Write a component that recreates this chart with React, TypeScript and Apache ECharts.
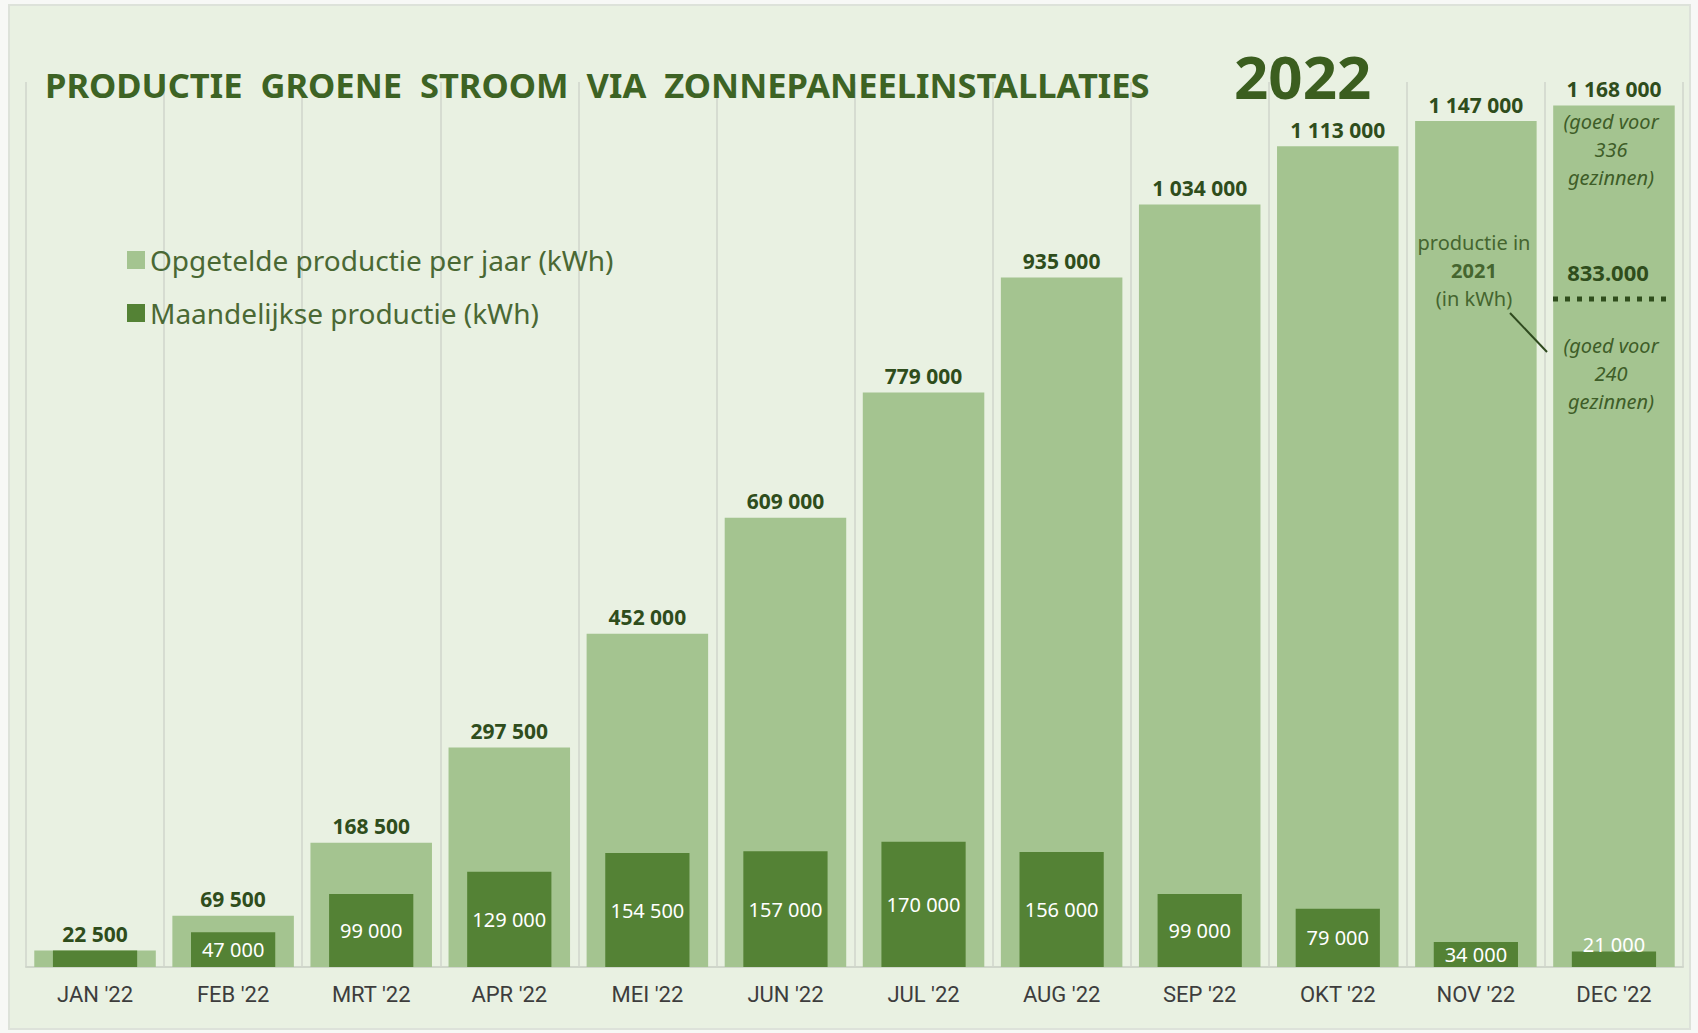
import React, { useEffect, useRef } from "react";
import * as echarts from "echarts";

const months = ["JAN '22", "FEB '22", "MRT '22", "APR '22", "MEI '22", "JUN '22", "JUL '22", "AUG '22", "SEP '22", "OKT '22", "NOV '22", "DEC '22"];
const cumulative = [22500, 69500, 168500, 297500, 452000, 609000, 779000, 935000, 1034000, 1113000, 1147000, 1168000];
const monthly = [22500, 47000, 99000, 129000, 154500, 157000, 170000, 156000, 99000, 79000, 34000, 21000];
const seriesNames = ["Opgetelde productie per jaar (kWh)", "Maandelijkse productie (kWh)"];
const titleText = "PRODUCTIE  GROENE  STROOM  VIA  ZONNEPANEELINSTALLATIES";
const yearText = "2022";
const decNote = ["(goed voor", "336", "gezinnen)"];
const prevNote = ["(goed voor", "240", "gezinnen)"];
const prevLabel = ["productie in", "2021", "(in kWh)"];
const prevValue = "833.000";

const fmt = (v: number) => String(v).replace(/\B(?=(\d{3})+(?!\d))/g, " ");

const FONT = "'Noto Sans', 'Open Sans', sans-serif";
const DARK = "#548235";
const LIGHT = "#a4c490";
const TXT = "#2f4d1c";

export default function App() {
  const ref = useRef<HTMLDivElement>(null);
  useEffect(() => {
    if (!ref.current) return;
    const chart = echarts.init(ref.current, undefined, { renderer: "svg" });
    const darkData = monthly.map((v, i) => {
      if (i === 0) return { value: v, label: { show: false } };
      if (i === monthly.length - 1) return { value: v, label: { position: "top", distance: -3 } };
      return { value: v };
    });
    const italic = (lines: string[], y0: number) =>
      lines.map((t, i) => ({
        type: "text",
        z: 100,
        style: {
          x: 1611, y: y0 + i * 28, text: t, align: "center", verticalAlign: "middle",
          fontFamily: FONT, fontSize: 20, fontStyle: "italic", fill: "#3e5d28",
        },
      }));
    chart.setOption({
      animation: false,
      backgroundColor: "#f7f8f6",
      title: {
        text: titleText,
        left: 40,
        top: 60,
        textStyle: { fontFamily: FONT, fontSize: 34.5, fontWeight: "bold", color: "#3d6324", lineHeight: 38 },
      },
      legend: {
        orient: "vertical",
        left: 122,
        top: 241,
        itemWidth: 18,
        itemHeight: 18,
        itemGap: 25,
        icon: "rect",
        data: seriesNames,
        textStyle: { fontFamily: FONT, fontSize: 28, color: "#4a6834" },
      },
      grid: { left: 26, right: 15, top: 82, bottom: 66 },
      xAxis: [
        {
          type: "category",
          data: months,
          axisLine: { show: true, lineStyle: { color: "#cfd6ca", width: 2 } },
          axisTick: { show: false },
          axisLabel: { fontFamily: "Roboto, sans-serif", fontSize: 22, color: "#3d3d3d", margin: 16 },
          splitLine: { show: true, lineStyle: { color: "#d6dcd1", width: 2 } },
        },
        { type: "category", data: months, show: false },
      ],
      yAxis: { type: "value", min: 0, max: 1200000, show: false, splitLine: { show: false } },
      series: [
        {
          name: seriesNames[0],
          type: "bar",
          xAxisIndex: 0,
          data: cumulative,
          barWidth: "88%",
          itemStyle: { color: LIGHT },
          label: {
            show: true, position: "top", distance: 6, formatter: (p: any) => fmt(p.value),
            fontFamily: FONT, fontSize: 21, fontWeight: "bold", color: TXT,
          },
        },
        {
          name: seriesNames[1],
          type: "bar",
          xAxisIndex: 1,
          data: darkData,
          barWidth: "61%",
          itemStyle: { color: DARK },
          label: {
            show: true, position: "inside", formatter: (p: any) => fmt(p.value),
            fontFamily: FONT, fontSize: 20, color: "#ffffff",
          },
        },
      ],
      graphic: [
        {
          type: "rect", z: -100, silent: true,
          shape: { x: 9, y: 5, width: 1681, height: 1024 },
          style: { fill: "#e9f1e2", stroke: "#dde2da", lineWidth: 2 },
        },
        {
          type: "text", z: 100,
          style: { x: 1234, y: 76, text: yearText, verticalAlign: "middle", fontFamily: FONT, fontSize: 60, fontWeight: "bold", fill: "#3b5e1f" },
        },
        ...italic(decNote, 121),
        ...italic(prevNote, 345),
        {
          type: "text", z: 100,
          style: { x: 1608, y: 272, text: prevValue, align: "center", verticalAlign: "middle", fontFamily: FONT, fontSize: 22, fontWeight: "bold", fill: TXT },
        },
        {
          type: "line", z: 100,
          shape: { x1: 1553, y1: 299, x2: 1670, y2: 299 },
          style: { stroke: "#2f4d1c", lineWidth: 5, lineDash: [5, 7] },
        },
        ...prevLabel.map((t, i) => ({
          type: "text", z: 100,
          style: {
            x: 1474, y: 242 + i * 28, text: t, align: "center", verticalAlign: "middle",
            fontFamily: FONT, fontSize: 20, fontWeight: i === 1 ? "bold" : "normal", fill: "#45652f",
          },
        })),
        {
          type: "line", z: 100,
          shape: { x1: 1510, y1: 313, x2: 1547, y2: 352 },
          style: { stroke: "#2f4a1f", lineWidth: 2 },
        },
      ],
    });
    return () => chart.dispose();
  }, []);
  return <div ref={ref} style={{ position: "fixed", left: 0, top: 0, width: 1698, height: 1033 }} />;
}
